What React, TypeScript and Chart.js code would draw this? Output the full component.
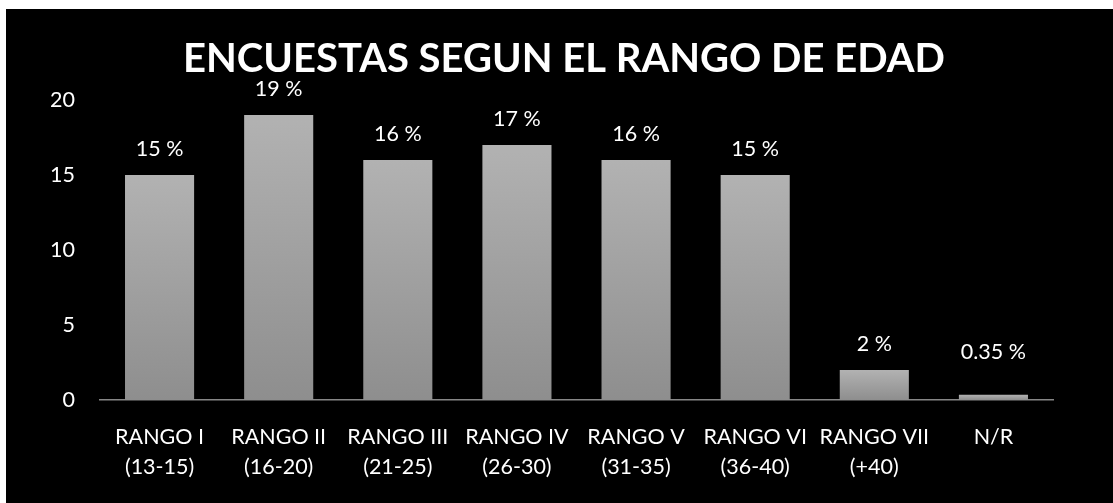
import React, { useEffect, useRef } from "react";
import { Chart, registerables } from "chart.js";

Chart.register(...registerables);

const titleText = "ENCUESTAS SEGUN EL RANGO DE EDAD";
const categories: string[][] = [
  ["RANGO I", "(13-15)"],
  ["RANGO II", "(16-20)"],
  ["RANGO III", "(21-25)"],
  ["RANGO IV", "(26-30)"],
  ["RANGO V", "(31-35)"],
  ["RANGO VI", "(36-40)"],
  ["RANGO VII", "(+40)"],
  ["N/R", ""],
];
const values = [15, 19, 16, 17, 16, 15, 2, 0.35];
const valueLabels = ["15 %", "19 %", "16 %", "17 %", "16 %", "15 %", "2 %", "0.35 %"];
const yTicks = [0, 5, 10, 15, 20];

const FONT = "Lato, 'Open Sans', sans-serif";

const titlePlugin = {
  id: "customTitle",
  afterDraw(chart: any) {
    const { ctx } = chart;
    ctx.save();
    ctx.fillStyle = "#ffffff";
    ctx.font = `bold 40px ${FONT}`;
    ctx.textAlign = "center";
    ctx.textBaseline = "middle";
    ctx.fillText(titleText, 558, 50);
    ctx.restore();
  },
};

const labelPlugin = {
  id: "valueLabels",
  afterDatasetsDraw(chart: any) {
    const { ctx } = chart;
    const meta = chart.getDatasetMeta(0);
    const zeroY = chart.scales.y.getPixelForValue(0);
    ctx.save();
    ctx.fillStyle = "#ffffff";
    ctx.font = `21.5px ${FONT}`;
    ctx.textAlign = "center";
    ctx.textBaseline = "middle";
    meta.data.forEach((el: any, i: number) => {
      const y = Math.min(el.y - 26, zeroY - 48);
      ctx.fillText(valueLabels[i], el.x, y);
    });
    ctx.restore();
  },
};

export default function App() {
  const ref = useRef<HTMLCanvasElement>(null);
  useEffect(() => {
    if (!ref.current) return;
    const chart = new Chart(ref.current, {
      type: "bar",
      data: {
        labels: categories,
        datasets: [
          {
            data: values,
            categoryPercentage: 1,
            barPercentage: 0.58,
            borderWidth: 0,
            backgroundColor: (c: any) => {
              const chartObj = c.chart;
              const ys = chartObj.scales && chartObj.scales.y;
              if (!ys || c.dataIndex === undefined) return "#a0a0a0";
              const top = ys.getPixelForValue(values[c.dataIndex]);
              const base = ys.getPixelForValue(0);
              if (!isFinite(top) || !isFinite(base) || base - top < 0.5) return "#a0a0a0";
              const g = chartObj.ctx.createLinearGradient(0, top, 0, base);
              g.addColorStop(0, "#b2b2b2");
              g.addColorStop(1, "#8e8e8e");
              return g;
            },
          },
        ],
      },
      options: {
        animation: false,
        responsive: false,
        maintainAspectRatio: false,
        layout: { padding: { left: 0, right: 60, top: 91, bottom: 0 } },
        plugins: {
          legend: { display: false },
          title: { display: false },
          tooltip: { enabled: false },
        },
        scales: {
          x: {
            grid: { display: false, drawTicks: false },
            border: { display: true, color: "#868686", width: 1.5 },
            ticks: {
              color: "#ffffff",
              font: { family: FONT, size: 21.5, lineHeight: 1.4 },
              padding: 22,
              maxRotation: 0,
              autoSkip: false,
            },
            afterFit: (s: any) => {
              s.height = 103;
            },
          },
          y: {
            min: 0,
            max: 20,
            grid: { display: false, drawTicks: false },
            border: { display: false },
            afterBuildTicks: (s: any) => {
              s.ticks = yTicks.map((v) => ({ value: v }));
            },
            ticks: {
              color: "#ffffff",
              font: { family: FONT, size: 21.5 },
              padding: 25,
            },
            afterFit: (s: any) => {
              s.width = 94;
            },
          },
        },
      },
      plugins: [titlePlugin, labelPlugin],
    });
    return () => chart.destroy();
  }, []);

  return (
    <div
      style={{
        position: "absolute",
        left: 6,
        top: 9,
        width: 1107,
        height: 494,
        background: "#000000",
      }}
    >
      <canvas ref={ref} width={1107} height={494} style={{ display: "block" }} />
    </div>
  );
}
